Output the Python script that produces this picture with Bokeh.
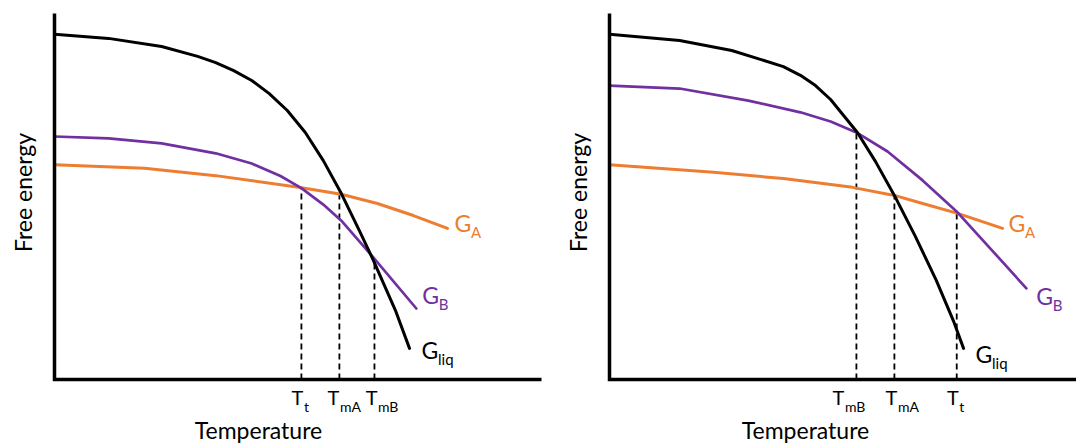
from bokeh.plotting import figure
from bokeh.layouts import row
from bokeh.models import Range1d
from bokeh.core.properties import value
from bokeh.embed import file_html
from bokeh.resources import INLINE
import math

# ---------------- data (temperature T, free energy G, arbitrary units) ----------------
# Left panel
L_liq_T = [0, 11.1, 22.0, 29.4, 33.1, 36.8, 40.5, 44.1, 47.8, 51.5, 55.2, 58.9, 62.6, 65.5, 70.0, 72.9]
L_liq_G = [94.3, 93.2, 91.0, 88.3, 86.6, 84.4, 81.7, 78.1, 73.5, 67.5, 59.8, 50.8, 40.7, 32.5, 18.9, 8.5]
L_B_T = [0, 11.1, 22.0, 33.1, 40.5, 46.4, 50.7, 55.2, 58.9, 65.5, 74.3]
L_B_G = [66.4, 65.9, 64.5, 61.8, 59.0, 55.6, 52.3, 47.8, 43.4, 33.3, 19.4]
L_A_T = [0, 18.5, 33.1, 50.1, 58.9, 66.3, 73.7, 80.7]
L_A_G = [58.7, 57.7, 55.7, 52.5, 50.6, 48.1, 44.8, 41.3]
L_trans_T = [50.7, 58.5, 65.7]
L_trans_G = [52.5, 50.7, 32.8]
L_trans_sub = ["t", "mA", "mB"]

# Right panel
R_liq_T = [0, 14.4, 25.1, 35.7, 39.2, 42.3, 45.4, 50.9, 54.6, 58.5, 62.8, 67.1, 70.6, 72.7]
R_liq_G = [94.3, 92.6, 89.9, 85.5, 83.1, 80.3, 76.5, 67.5, 59.6, 50.3, 39.1, 27.1, 16.1, 8.5]
R_B_T = [0, 14.4, 28.5, 39.2, 45.4, 50.7, 57.1, 64.3, 71.5, 78.4, 85.6]
R_B_G = [80.3, 79.5, 76.2, 73.0, 70.5, 67.5, 62.3, 54.4, 45.6, 35.5, 24.9]
R_A_T = [0, 21.4, 35.7, 49.9, 58.5, 64.3, 71.5, 80.7]
R_A_G = [58.7, 56.6, 54.9, 52.5, 50.3, 48.1, 45.4, 41.3]
R_trans_T = [50.7, 58.5, 71.3]
R_trans_G = [67.5, 50.3, 45.6]
R_trans_sub = ["mB", "mA", "t"]

curve_names = ["A", "B", "liq"]
x_title = "Temperature"
y_title = "Free energy"

# ---------------- style ----------------
FONT = "Lato"
ORANGE = "#ED7D31"
PURPLE = "#7030A0"
BLACK = "#000000"
SX = 4.87   # px per T unit
SY = 3.66   # px per G unit
H = 447
AXIS_Y_PX = 379  # px from top of figure to the T axis
BL = 0.42        # baseline correction (fraction of font size)


def base_y(px_below, fs):
    """data y for an alphabetic baseline px_below pixels under the reference point"""
    return -(px_below - BL * fs) / SY


def panel(width, yaxis_px, curves, tT, tG, tsub, tick_dx, lab_off, xtitle_px):
    p = figure(width=width, height=H, output_backend="svg", toolbar_location=None,
               x_axis_location=None, y_axis_location=None, min_border=0,
               x_range=Range1d(-yaxis_px / SX, (width - yaxis_px) / SX),
               y_range=Range1d(-(H - AXIS_Y_PX) / SY, AXIS_Y_PX / SY))
    p.grid.visible = False
    p.outline_line_color = None

    # dashed transition lines
    p.segment(x0=tT, y0=[0] * len(tT), x1=tT, y1=tG, line_color=BLACK,
              line_width=1.8, line_dash="6 4")

    # curves and their labels
    for (T, G, col, lw), name, (dx, dy) in zip(curves, curve_names, lab_off):
        p.line(T, G, line_color=col, line_width=lw, line_cap="round", line_join="round")
        x0 = T[-1] + dx / SX
        p.text(x=[x0], y=[G[-1] + base_y(dy, 23)], text=["G"], text_font=value(FONT),
               text_font_size="23px", text_color=col, text_align="left",
               text_baseline="alphabetic")
        p.text(x=[x0 + 16.5 / SX], y=[G[-1] + base_y(dy + 5.5, 15)], text=[name],
               text_font=value(FONT), text_font_size="15px", text_color=col,
               text_align="left", text_baseline="alphabetic")

    # axes
    p.line([0, 0, 100], [100, 0, 0], line_color=BLACK, line_width=3.5, line_join="miter")

    # transition tick labels
    for t, s, dx in zip(tT, tsub, tick_dx):
        p.text(x=[t + dx / SX], y=[base_y(26, 20)], text=["T"], text_font=value(FONT),
               text_font_size="20px", text_color=BLACK, text_align="right",
               text_baseline="alphabetic")
        p.text(x=[t + (dx + 0.5) / SX], y=[base_y(33, 14)], text=[s], text_font=value(FONT),
               text_font_size="14px", text_color=BLACK, text_align="left",
               text_baseline="alphabetic")

    # axis titles
    p.text(x=[-31.5 / SX], y=[187 / SY], text=[y_title],
           text_font=value(FONT), text_font_size="23px", text_color=BLACK,
           text_align="center", text_baseline="middle", angle=math.pi / 2)
    p.text(x=[xtitle_px / SX], y=[base_y(60, 23)], text=[x_title], text_font=value(FONT),
           text_font_size="23px", text_color=BLACK, text_align="center",
           text_baseline="alphabetic")
    return p


left = panel(552, 54,
             [(L_A_T, L_A_G, ORANGE, 3), (L_B_T, L_B_G, PURPLE, 2.7), (L_liq_T, L_liq_G, BLACK, 3)],
             L_trans_T, L_trans_G, L_trans_sub, [2, 0, 3],
             [(7, 4), (6, -4), (12, 11)], 204)
right = panel(524, 57,
              [(R_A_T, R_A_G, ORANGE, 3), (R_B_T, R_B_G, PURPLE, 2.7), (R_liq_T, R_liq_G, BLACK, 3)],
              R_trans_T, R_trans_G, R_trans_sub, [-12, 3, 2],
              [(6, 4), (10, 17), (12, 15)], 196)

layout = row(left, right)
open("out.html", "w").write(file_html(layout, INLINE))
